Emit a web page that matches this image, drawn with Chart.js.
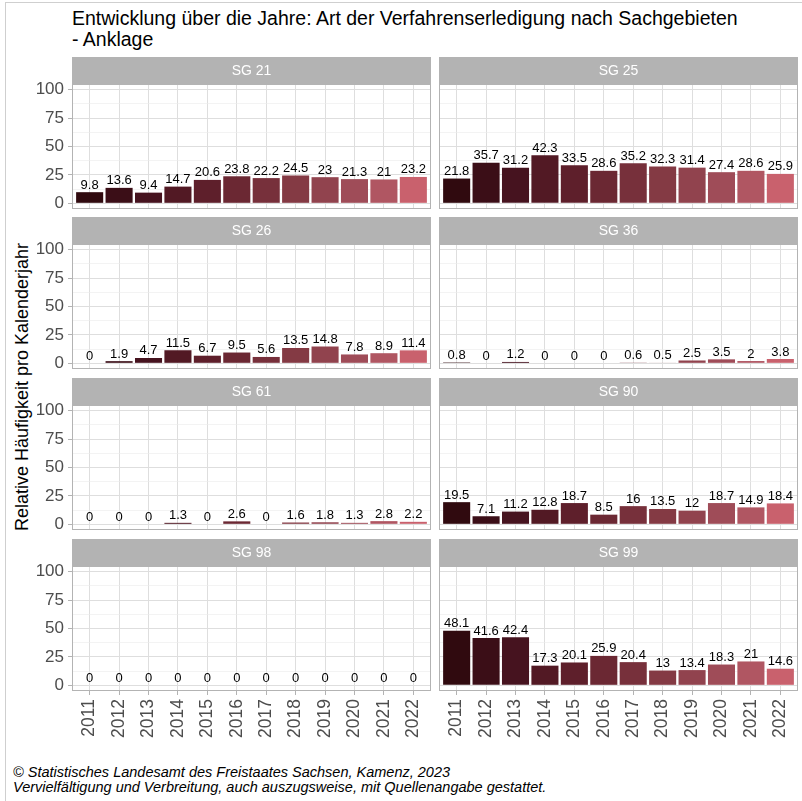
<!DOCTYPE html>
<html>
<head>
<meta charset="utf-8">
<script src="https://cdn.jsdelivr.net/npm/chart.js@4.4.1/dist/chart.umd.min.js"></script>
<style>
  html, body { margin: 0; padding: 0; background: #fff; }
  body { width: 802px; height: 801px; position: relative; overflow: hidden; font-family: "Liberation Sans", Arial, sans-serif; }
  #frame { position: absolute; left: 5px; top: 2px; width: 820px; height: 820px; border-left: 1px solid #cfcfcf; border-top: 1px solid #cfcfcf; }
  #title { position: absolute; left: 72px; top: 8px; font-size: 19.5px; line-height: 21px; color: #000; white-space: nowrap; }
  #ylab { position: absolute; left: 22px; top: 387px; font-size: 18px; color: #000; white-space: nowrap; transform: translate(-50%, -50%) rotate(-90deg); }
  #caption { position: absolute; left: 13px; top: 765px; font-size: 14.5px; line-height: 15px; font-style: italic; color: #000; white-space: nowrap; }
  canvas { position: absolute; }
</style>
</head>
<body>
<div id="frame"></div>
<div id="title">Entwicklung über die Jahre: Art der Verfahrenserledigung nach Sachgebieten<br>- Anklage</div>
<div id="ylab">Relative Häufigkeit pro Kalenderjahr</div>
<div id="caption">© Statistisches Landesamt des Freistaates Sachsen, Kamenz, 2023<br>Vervielfältigung und Verbreitung, auch auszugsweise, mit Quellenangabe gestattet.</div>
<script>
// ---- data ----
const years = ['2011','2012','2013','2014','2015','2016','2017','2018','2019','2020','2021','2022'];
const panelNames = ['SG 21','SG 25','SG 26','SG 36','SG 61','SG 90','SG 98','SG 99'];
const sg21 = [9.8, 13.6, 9.4, 14.7, 20.6, 23.8, 22.2, 24.5, 23, 21.3, 21, 23.2];
const sg25 = [21.8, 35.7, 31.2, 42.3, 33.5, 28.6, 35.2, 32.3, 31.4, 27.4, 28.6, 25.9];
const sg26 = [0, 1.9, 4.7, 11.5, 6.7, 9.5, 5.6, 13.5, 14.8, 7.8, 8.9, 11.4];
const sg36 = [0.8, 0, 1.2, 0, 0, 0, 0.6, 0.5, 2.5, 3.5, 2, 3.8];
const sg61 = [0, 0, 0, 1.3, 0, 2.6, 0, 1.6, 1.8, 1.3, 2.8, 2.2];
const sg90 = [19.5, 7.1, 11.2, 12.8, 18.7, 8.5, 16, 13.5, 12, 18.7, 14.9, 18.4];
const sg98 = [0, 0, 0, 0, 0, 0, 0, 0, 0, 0, 0, 0];
const sg99 = [48.1, 41.6, 42.4, 17.3, 20.1, 25.9, 20.4, 13, 13.4, 18.3, 21, 14.6];
const yTicks = [0, 25, 50, 75, 100];
const yearColors = ['#300A0F','#3B0E17','#46131F','#521924','#5E1F2B','#6B2833','#77303B','#843A44','#91434E','#9F4C58','#B05662','#C9616D'];

const panelValues = [sg21, sg25, sg26, sg36, sg61, sg90, sg98, sg99];

// ---- layout ----
const FONT = '"Liberation Sans", Arial, sans-serif';
Chart.defaults.font.family = FONT;
const STRIP_H = 27, PANEL_H = 125;
const ROW_TOPS = [57, 217, 378, 539];
const XAXIS_H = 60, YAXIS_W = 72;
const GRID_MAJOR = '#DEDEDE', GRID_MINOR = '#EBEBEB', FRAME = '#B3B3B3';

// minor breaks between major ticks (grid only)
const yGrid = [];
yTicks.forEach((t, i) => { yGrid.push(t); if (i < yTicks.length - 1) yGrid.push((t + yTicks[i + 1]) / 2); });

const panelPlugin = {
  id: 'panelDeco',
  beforeDraw(chart, args, opts) {
    const { ctx, chartArea: a } = chart;
    ctx.save();
    ctx.fillStyle = FRAME;
    ctx.fillRect(a.left, a.top - STRIP_H, a.right - a.left, STRIP_H);
    ctx.fillStyle = '#ffffff';
    ctx.font = '14px ' + FONT;
    ctx.textAlign = 'center';
    ctx.textBaseline = 'middle';
    ctx.fillText(opts.title, (a.left + a.right) / 2, a.top - STRIP_H / 2 + 0.5);
    ctx.restore();
  },
  afterDatasetsDraw(chart) {
    const { ctx } = chart;
    const meta = chart.getDatasetMeta(0);
    const vals = chart.data.datasets[0].data;
    ctx.save();
    ctx.fillStyle = '#000';
    ctx.font = '13px ' + FONT;
    ctx.textAlign = 'center';
    ctx.textBaseline = 'alphabetic';
    meta.data.forEach((el, i) => {
      ctx.fillText(String(vals[i].y), el.x, el.y - 3.5);
    });
    ctx.restore();
  },
  afterDraw(chart) {
    const { ctx, chartArea: a } = chart;
    ctx.save();
    ctx.strokeStyle = FRAME;
    ctx.lineWidth = 1;
    ctx.strokeRect(a.left + 0.5, a.top + 0.5, a.right - a.left - 1, a.bottom - a.top - 1);
    ctx.restore();
  }
};

panelNames.forEach((name, idx) => {
  const col = idx % 2, row = Math.floor(idx / 2);
  const isLeft = col === 0, isBottom = row === 3;
  const canvas = document.createElement('canvas');
  const left = isLeft ? 0 : 439;
  const width = isLeft ? 431 : 359;
  const top = ROW_TOPS[row];
  const height = STRIP_H + PANEL_H + (isBottom ? XAXIS_H : 0);
  canvas.width = width; canvas.height = height;
  canvas.style.left = left + 'px'; canvas.style.top = top + 'px';
  canvas.style.width = width + 'px'; canvas.style.height = height + 'px';
  document.body.appendChild(canvas);

  const vals = panelValues[idx];
  new Chart(canvas, {
    type: 'bar',
    data: {
      datasets: [{
        data: vals.map((v, i) => ({ x: i + 1, y: v })),
        backgroundColor: yearColors,
        borderWidth: 0,
        barPercentage: 0.92,
        categoryPercentage: 1.0
      }]
    },
    options: {
      responsive: false,
      animation: false,
      devicePixelRatio: 1,
      layout: { padding: { top: STRIP_H, left: 0, right: 0, bottom: 0 } },
      plugins: {
        legend: { display: false },
        tooltip: { enabled: false },
        panelDeco: { title: name }
      },
      scales: {
        x: {
          type: 'linear',
          offset: false,
          min: 0.4, max: 12.6,
          afterBuildTicks: s => { s.ticks = years.map((_, i) => ({ value: i + 1 })); },
          afterFit: s => { s.height = isBottom ? XAXIS_H : 0; s.paddingLeft = 0; s.paddingRight = 0; },
          border: { display: false },
          grid: {
            offset: false,
            color: GRID_MAJOR, lineWidth: 1,
            drawTicks: isBottom, tickLength: 4, tickColor: FRAME
          },
          ticks: {
            display: isBottom,
            autoSkip: false,
            minRotation: 90, maxRotation: 90,
            padding: 4,
            color: '#4D4D4D',
            font: { size: 17.5 },
            callback: v => years[v - 1]
          }
        },
        y: {
          type: 'linear',
          min: -5, max: 105,
          afterBuildTicks: s => { s.ticks = yGrid.map(v => ({ value: v })); },
          afterFit: s => { s.width = isLeft ? YAXIS_W : 0; s.paddingTop = 0; s.paddingBottom = 0; },
          border: { display: false },
          grid: {
            color: c => (yTicks.includes(c.tick && c.tick.value) ? GRID_MAJOR : GRID_MINOR),
            lineWidth: c => (yTicks.includes(c.tick && c.tick.value) ? 1 : 0.6),
            drawTicks: isLeft, tickLength: 4,
            tickColor: c => (yTicks.includes(c.tick && c.tick.value) ? FRAME : 'rgba(0,0,0,0)')
          },
          ticks: {
            display: isLeft,
            autoSkip: false,
            padding: 4,
            color: '#4D4D4D',
            font: { size: 17 },
            callback: v => (yTicks.includes(v) ? String(v) : '')
          }
        }
      }
    },
    plugins: [panelPlugin]
  });
});
</script>
</body>
</html>
